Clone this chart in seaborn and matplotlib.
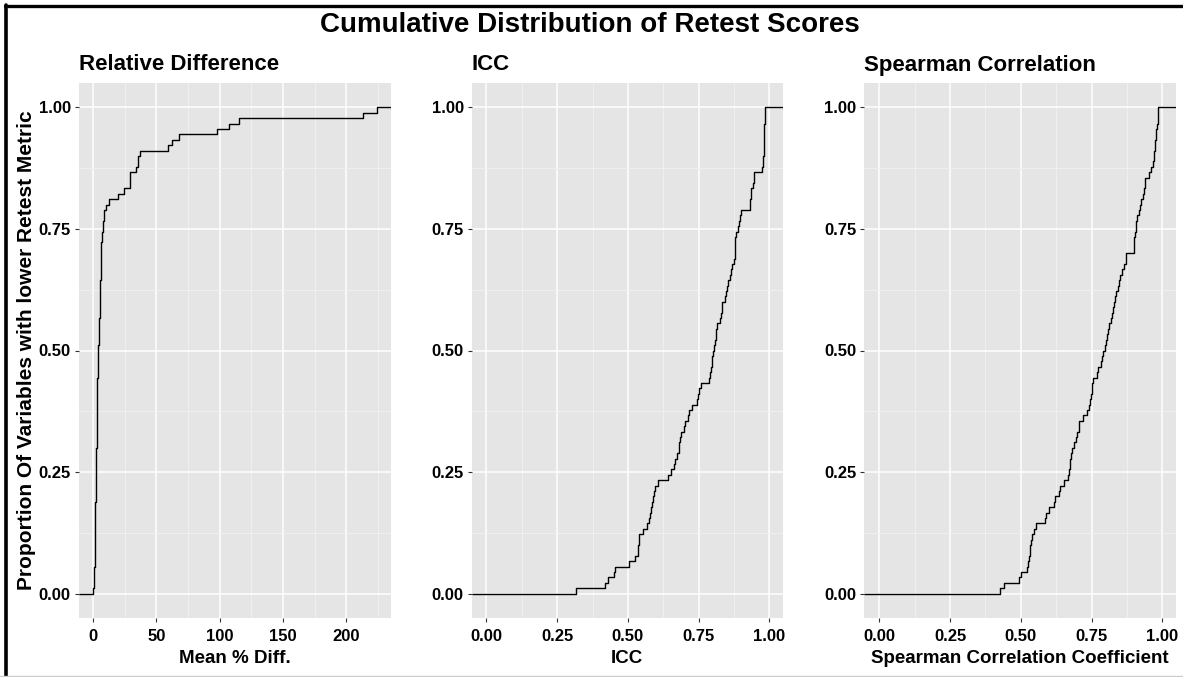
import numpy as np
import pandas as pd
import matplotlib
matplotlib.use("Agg")
import matplotlib.pyplot as plt
from matplotlib.lines import Line2D
import seaborn as sns

rel_diff = [0.3, 0.5,
            1.0, 1.1, 1.2, 1.3, 1.35, 1.4, 1.45, 1.5, 1.55,
            1.7, 1.8, 1.9, 1.95, 2.0, 2.05, 2.1, 2.15, 2.2, 2.25, 2.3, 2.34,
            2.5, 2.6, 2.7, 2.8, 2.9, 3.0, 3.05, 3.13,
            3.2, 3.25, 3.3, 3.35, 3.4, 3.45, 3.5, 3.55, 3.6, 3.65, 3.7, 3.8, 3.85, 3.92,
            4.3, 4.5, 4.7, 4.8, 5.0, 5.1, 5.23,
            5.5, 5.6, 5.7, 5.8, 5.9, 6.0, 6.1, 6.28,
            6.4, 6.5, 6.55, 6.6, 6.7, 6.8,
            7.3, 7.86,
            8.3, 8.6, 8.9,
            9.96, 12.85, 19.7, 24.9, 28.9, 29.2, 29.4, 34.1, 35.2, 35.5, 36.8,
            59.1, 62.8, 68.3, 97.8, 107.7, 115.6, 212.9, 223.9]

icc = [0.316, 0.419, 0.429, 0.450, 0.455, 0.504, 0.524,
       0.535, 0.537, 0.539, 0.540, 0.553, 0.568, 0.573, 0.578,
       0.582, 0.585, 0.588, 0.592, 0.596, 0.608, 0.643, 0.651,
       0.662, 0.667, 0.675, 0.679, 0.682, 0.685, 0.687, 0.698, 0.702,
       0.712, 0.716, 0.728, 0.745, 0.749, 0.752, 0.760, 0.785, 0.791,
       0.794, 0.796, 0.798, 0.799, 0.805, 0.809, 0.811, 0.813, 0.814,
       0.824, 0.829, 0.832, 0.834, 0.843, 0.848, 0.851, 0.853, 0.861,
       0.865, 0.867, 0.876, 0.877, 0.878, 0.879, 0.880, 0.881,
       0.889, 0.893, 0.896, 0.899, 0.932, 0.933, 0.934, 0.935,
       0.942, 0.944, 0.946, 0.975, 0.977, 0.979,
       0.980, 0.9805, 0.981, 0.9812, 0.9815, 0.982, 0.984, 0.985, 0.986]

spearman = [0.427, 0.442, 0.495, 0.501, 0.520, 0.525, 0.528, 0.531, 0.534, 0.536,
            0.541, 0.545, 0.554, 0.584, 0.588, 0.598, 0.616, 0.621, 0.634, 0.639,
            0.651, 0.665, 0.669, 0.672, 0.675, 0.678, 0.680, 0.688, 0.695, 0.700,
            0.704, 0.707, 0.719, 0.733, 0.740, 0.745, 0.749, 0.751, 0.753, 0.755,
            0.768, 0.772, 0.782, 0.786, 0.790, 0.797, 0.801, 0.804, 0.809, 0.813,
            0.819, 0.822, 0.825, 0.828, 0.833, 0.837, 0.842, 0.846, 0.849, 0.857,
            0.866, 0.870, 0.873, 0.899, 0.900, 0.901, 0.902, 0.905, 0.908, 0.910,
            0.918, 0.922, 0.926, 0.932, 0.935, 0.938, 0.940, 0.952, 0.960, 0.965,
            0.969, 0.971, 0.973, 0.975, 0.977, 0.979, 0.981, 0.983, 0.984, 0.985]

panel_titles = ["Relative Difference", "ICC", "Spearman Correlation"]
x_labels = ["Mean % Diff.", "ICC", "Spearman Correlation Coefficient"]
y_label = "Proportion Of Variables with lower Retest Metric"
main_title = "Cumulative Distribution of Retest Scores"

x_ticks = [[0, 50, 100, 150, 200],
           [0.0, 0.25, 0.5, 0.75, 1.0],
           [0.0, 0.25, 0.5, 0.75, 1.0]]
x_minor = [[25, 75, 125, 175, 225],
           [0.125, 0.375, 0.625, 0.875],
           [0.125, 0.375, 0.625, 0.875]]
x_ticklabels = [["0", "50", "100", "150", "200"],
                ["0.00", "0.25", "0.50", "0.75", "1.00"],
                ["0.00", "0.25", "0.50", "0.75", "1.00"]]
y_ticks = [0.0, 0.25, 0.5, 0.75, 1.0]
y_minor = [0.125, 0.375, 0.625, 0.875]
y_ticklabels = ["0.00", "0.25", "0.50", "0.75", "1.00"]
x_limits = [(-11.2, 235.0), (-0.052, 1.047), (-0.053, 1.048)]

# ---------------- style ----------------
sns.set_theme(style="darkgrid")
plt.rcParams["font.family"] = ["Liberation Sans", "DejaVu Sans"]
plt.rcParams["font.weight"] = "bold"
plt.rcParams["axes.labelweight"] = "bold"
plt.rcParams["text.color"] = "black"
plt.rcParams["axes.labelcolor"] = "black"

W, H = 1183, 677
fig = plt.figure(figsize=(W / 100, H / 100), dpi=100)
fig.patch.set_facecolor("white")

panels_px = [(78.7, 390.7), (471.7, 782.7), (864.3, 1176.0)]
top_px, bot_px = 83.0, 618.0

datasets = [rel_diff, icc, spearman]
for i, (data, (l, r)) in enumerate(zip(datasets, panels_px)):
    ax = fig.add_axes([l / W, 1 - bot_px / H, (r - l) / W, (bot_px - top_px) / H])
    ax.set_facecolor("#E5E5E5")
    sns.ecdfplot(x=pd.Series(data), ax=ax, color="black", linewidth=1.0)
    ax.set_xlim(*x_limits[i])
    ax.set_ylim(-0.05, 1.05)
    # ggplot-style padding of the ECDF to the panel edges
    xl = ax.get_xlim()
    ax.hlines(0, xl[0], min(data), color="black", linewidth=1.0)
    ax.hlines(1, max(data), xl[1], color="black", linewidth=1.0)

    ax.set_xticks(x_ticks[i])
    ax.set_xticklabels(x_ticklabels[i])
    ax.set_xticks(x_minor[i], minor=True)
    ax.set_yticks(y_ticks)
    ax.set_yticklabels(y_ticklabels)
    ax.set_yticks(y_minor, minor=True)
    ax.grid(which="major", color="white", linewidth=1.1)
    ax.grid(which="minor", color="#F2F2F2", linewidth=0.6)
    ax.set_axisbelow(True)
    for s in ax.spines.values():
        s.set_visible(False)
    ax.tick_params(which="major", bottom=True, left=True, length=3.2, width=0.8,
                   color="#333333", labelsize=12, labelcolor="black")
    ax.tick_params(axis="x", which="major", pad=4.5)
    ax.tick_params(axis="y", which="major", pad=2.5)
    ax.tick_params(which="minor", bottom=False, left=False, length=0)
    for lab in ax.get_xticklabels() + ax.get_yticklabels():
        lab.set_fontweight("bold")

    ax.set_xlabel(x_labels[i], fontsize=13.5, fontweight="bold", labelpad=4.5)
    if i == 0:
        ax.set_ylabel(y_label, fontsize=15, fontweight="bold", labelpad=2)
    else:
        ax.set_ylabel("")
    ax.set_title(panel_titles[i], loc="left", fontsize=16, fontweight="bold", pad=9)

fig.text(590 / W, 1 - 25 / H, main_title, ha="center", va="center",
         fontsize=20, fontweight="bold")

# figure frame (black top/left, light bottom)
fig.add_artist(Line2D([5.5 / W, 5.5 / W], [0, 1 - 5 / H], transform=fig.transFigure,
                      color="black", linewidth=2.6))
fig.add_artist(Line2D([4.5 / W, 1], [1 - 6 / H, 1 - 6 / H], transform=fig.transFigure,
                      color="black", linewidth=2.4))
fig.add_artist(Line2D([0, 1], [1 / H, 1 / H], transform=fig.transFigure,
                      color="#CCCCCC", linewidth=1))

fig.savefig("out.png", dpi=100)
